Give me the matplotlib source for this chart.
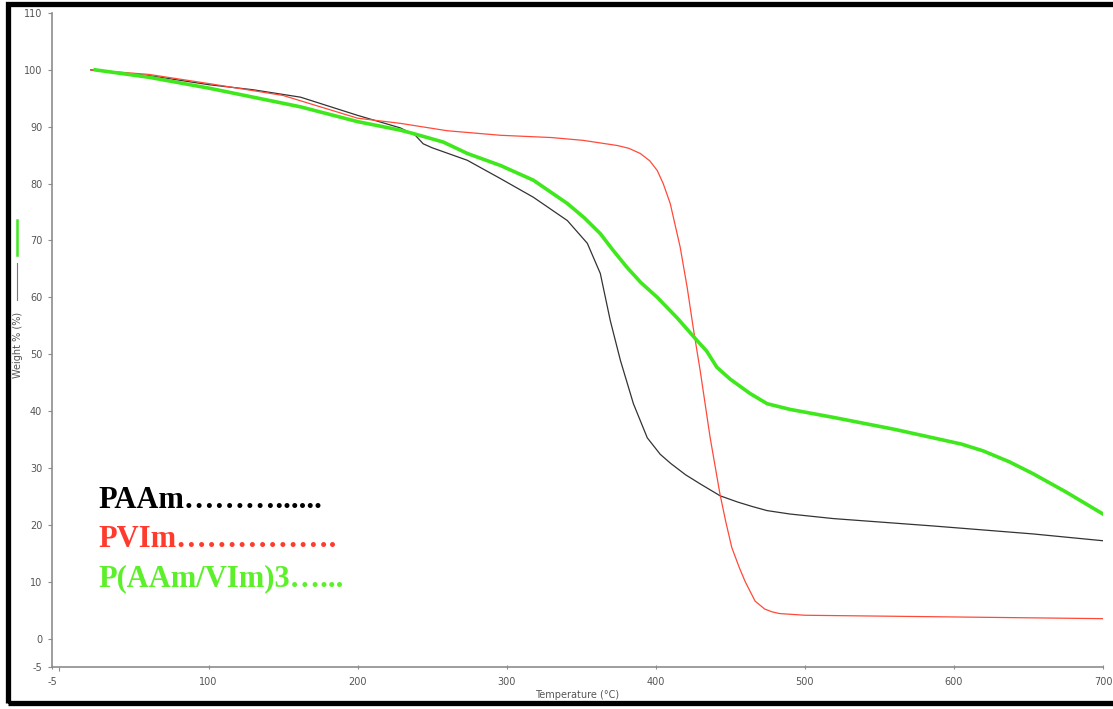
"""TGA curves of PAAm, PVIm and P(AAm/VIm)3 hydrogels."""

import matplotlib
matplotlib.use('Agg')
import matplotlib.pyplot as plt
from matplotlib.lines import Line2D
from matplotlib.patches import Rectangle

plt.rcParams['axes.unicode_minus'] = False

# PAAm (black)
paam_t = [21, 60, 100, 130, 161.7, 200, 228.6, 238.7, 244, 250, 273.6, 295.7, 317.9, 340.7,
          354.1, 362.8, 369.5, 376.3, 385, 394.3, 403, 410, 420, 429.8, 443.2, 455, 465,
          474.7, 490, 519, 586, 653, 700]
paam_w = [100, 99, 97.4, 96.5, 95.2, 92.0, 89.8, 88.5, 87, 86.3, 84.1, 80.9, 77.6, 73.5,
          69.5, 64.2, 55.9, 48.9, 41.3, 35.3, 32.4, 30.8, 28.8, 27.2, 25.1, 24.0, 23.2,
          22.5, 21.9, 21.1, 19.8, 18.4, 17.2]

# PVIm (red)
pvim_t = [21, 60, 100, 150, 200, 228.6, 260, 295.7, 330, 351.4, 374.2, 382, 389.6, 396, 401,
          405, 409.7, 416.4, 421.1, 425.1, 429.8, 436.5, 443, 447, 451, 456, 460, 466.6, 473,
          478, 483, 500, 600, 700]
pvim_w = [100, 99.2, 97.6, 95.5, 91.5, 90.6, 89.3, 88.5, 88.1, 87.6, 86.7, 86.2, 85.3, 84.0,
          82.3, 80.0, 76.5, 68.8, 61.7, 54.7, 47.1, 35.3, 25.5, 20.5, 16, 12.5, 10, 6.6, 5.2,
          4.7, 4.4, 4.1, 3.8, 3.5]

# P(AAm/VIm)3 (green)
copo_t = [24, 60, 100, 161.7, 200, 228.6, 237.4, 257.5, 273.6, 295.7, 317.9, 340.7, 352,
          362.8, 371, 380.6, 390, 401, 414.3, 427.7, 434, 441, 450, 463.2, 474.7, 490, 519,
          560, 586, 605, 619.6, 637, 653, 675, 700]
copo_w = [100, 98.7, 96.8, 93.5, 90.9, 89.4, 88.8, 87.3, 85.3, 83.2, 80.6, 76.5, 74.0,
          71.2, 68.4, 65.3, 62.6, 60.0, 56.4, 52.4, 50.6, 47.7, 45.6, 43.1, 41.3, 40.3, 38.9,
          36.8, 35.3, 34.2, 33.0, 31.1, 29.0, 25.8, 21.9]

x_ticks = [-5, 100, 200, 300, 400, 500, 600, 700]
y_ticks = [-5, 0, 10, 20, 30, 40, 50, 60, 70, 80, 90, 100, 110]
labels = ['PAAm' + '…' * 3 + '.' * 6, 'PVIm' + '…' * 5 + '.', 'P(AAm/VIm)3' + '…' + '...']

BLACK = '#333333'
RED = '#ff4a3a'
GREEN = '#3fe81c'
AXIS = '#8c8c8c'

fig = plt.figure(figsize=(11.13, 7.09), dpi=100)
fig.patch.set_facecolor('white')
ax = fig.add_axes([52 / 1113, 42 / 709, (1103 - 52) / 1113, (667 - 13) / 709])

ax.plot(paam_t, paam_w, color=BLACK, lw=0.9)
ax.plot(pvim_t, pvim_w, color=RED, lw=0.9)
ax.plot(copo_t, copo_w, color=GREEN, lw=2.6)

ax.set_xlim(-5, 700)
ax.set_ylim(-5, 110)
ax.set_xticks(x_ticks)
ax.set_yticks(y_ticks)
ax.set_xticks([0], minor=True)
for side in ('top', 'right'):
    ax.spines[side].set_visible(False)
for side in ('left', 'bottom'):
    ax.spines[side].set_color(AXIS)
    ax.spines[side].set_linewidth(1.2)
ax.tick_params(axis='both', which='both', colors=AXIS, labelcolor='#555555',
               labelsize=7, length=3, width=0.8)
ax.tick_params(axis='x', direction='inout', pad=6)
ax.tick_params(axis='y', direction='out', pad=4)
ax.set_xlabel('Temperature (°C)', fontsize=7, color='#555555', labelpad=2)
fig.text(18 / 1113, 1 - 345 / 709, 'Weight % (%)', rotation=90, fontsize=7,
         color='#555555', ha='center', va='center')

# legend-style text block
text_colors = ['#000000', '#ff3b2e', '#5cf02a']
for i, (lab, c) in enumerate(zip(labels, text_colors)):
    fig.text(98 / 1113, 1 - (508 + 39 * i) / 709, lab, color=c, fontsize=22,
             fontweight='bold', family='Liberation Serif', va='baseline')

# small line keys next to the y label
fig.add_artist(Line2D([17 / 1113, 17 / 1113], [1 - 220 / 709, 1 - 255 / 709],
                      color=GREEN, lw=1.8))
fig.add_artist(Line2D([17 / 1113, 17 / 1113], [1 - 263 / 709, 1 - 300 / 709],
                      color='#777777', lw=0.8))

# black frame around the picture
fig.add_artist(Rectangle((7.5 / 1113, 1 - 703 / 709), 1.05, (703 - 3.5) / 709,
                         transform=fig.transFigure, fill=False, edgecolor='black',
                         lw=3.8, clip_on=False))

fig.savefig('out.png', dpi=100)
